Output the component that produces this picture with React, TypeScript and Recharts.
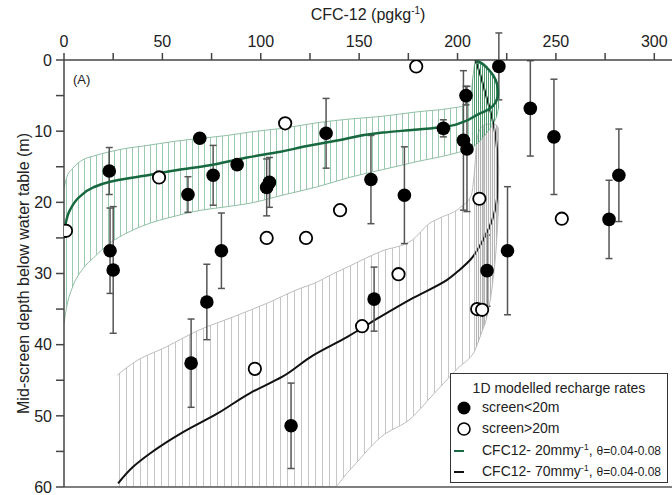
import {
  ComposedChart,
  XAxis,
  YAxis,
  Area,
  Line,
  Scatter,
  ErrorBar,
  ReferenceLine,
  Legend,
  Label,
} from "recharts";

const FONT = "'Liberation Sans', Arial, sans-serif";

const xTicks = [0, 25, 50, 75, 100, 125, 150, 175, 200, 225, 250, 275, 300];
const yTicks = [0, 5, 10, 15, 20, 25, 30, 35, 40, 45, 50, 55, 60];

// 20 mm/y model, theta 0.04-0.08: shallow / deep edge of the band at each concentration
const greenBandX = [0, 1.5, 4.5, 9.7, 15, 23, 32, 40, 57, 66, 83, 95, 111, 129, 145, 162, 179, 196, 205, 207, 208, 209, 212, 215, 218, 220, 221];
const greenBandTop = [18, 16.4, 15.2, 14.0, 13.5, 12.9, 12.4, 12.1, 11.4, 11.1, 10.6, 10.1, 9.6, 8.8, 8.3, 7.9, 7.3, 6.8, 6.3, 4.5, 2, 0.3, 0.6, 1.3, 2.3, 3.5, 4.8];
const greenBandBottom = [37, 34.5, 31.8, 29.3, 27.8, 25.8, 24.3, 23.3, 21.9, 21.3, 20.6, 20.1, 19.0, 17.8, 16.5, 15.4, 14.3, 13.3, 12.6, 12.4, 12.2, 12.0, 11.2, 10.2, 9.0, 7.8, 6.5];

// dense part of the green band near the surface
const greenCoreX = [207.5, 209, 212, 215, 218, 220, 221];
const greenCoreTop = [3, 0.3, 0.6, 1.3, 2.3, 3.5, 4.8];
const greenCoreBottom = [12.3, 12.0, 11.2, 10.2, 9.0, 7.8, 6.5];

// 70 mm/y model band
const grayBandX = [27, 35, 52, 69, 86, 103, 120, 127, 137, 144, 161, 177, 186, 191, 201, 207, 208.5, 210, 212, 215, 218, 220, 221];
const grayBandTop = [44.3, 42.6, 40.3, 37.9, 36.1, 34.2, 32.1, 31.4, 30.0, 29.1, 26.9, 25.3, 22.9, 22.2, 20.8, 19, 16, 11, 9.5, 9.0, 9.0, 9.2, 9.8];
const grayBandBottom = [60, 60, 60, 60, 60, 60, 60, 60, 60, 58, 53, 50.2, 47.5, 46, 43.1, 41.6, 41, 40, 38.5, 36, 31, 25, 19.7];

const grayCoreX = [208.5, 210, 212, 215, 218, 220, 221];
const grayCoreTop = [16, 11, 9.5, 9.0, 9.0, 9.2, 9.8];
const grayCoreBottom = [41, 40, 38.5, 36, 31, 25, 19.7];

// central model profiles (ordered from the water table down)
const greenLineX = [209, 212, 215, 218, 220, 220.6, 219.5, 216, 210, 203, 193, 178, 162, 139, 121.5, 110, 93, 74, 57, 40, 23.4, 14.9, 8, 3, 0.5, 0];
const greenLineDepth = [0, 0.4, 1.1, 2.1, 3.3, 4.8, 5.9, 6.9, 7.7, 8.7, 9.4, 9.8, 10.2, 11.3, 12.2, 12.9, 13.7, 14.8, 15.5, 16.3, 17.1, 17.9, 19.2, 21.1, 23.5, 24.5];

const blackLineX = [209, 211.5, 214, 217, 219.5, 220.6, 220.5, 219.5, 217.6, 213, 206.4, 201, 194.7, 177, 160.7, 144, 126.6, 111, 94.6, 77.8, 60.5, 43.7, 35, 27.5];
const blackLineDepth = [0, 2, 4.5, 7.5, 11, 15, 18, 20.5, 22.5, 25.3, 28.1, 29.5, 30.9, 33.5, 36.1, 38.9, 41.5, 44.5, 46.8, 49.7, 52.3, 55.3, 57.2, 59.5];

// observations, screen < 20 m
const shallowX = [221, 237, 249, 282, 277, 204.3, 203, 204.8, 192.8, 156, 173, 133.2, 69, 88, 75.8, 63, 103, 104.4, 23, 23.4, 25, 80, 72.6, 64.6, 115.4, 157.6, 215, 225.4];
const shallowDepth = [0.9, 6.8, 10.8, 16.2, 22.4, 5.0, 11.3, 12.5, 9.6, 16.8, 19.0, 10.3, 11.0, 14.7, 16.2, 18.9, 17.9, 17.2, 15.6, 26.8, 29.5, 26.8, 34.0, 42.6, 51.4, 33.6, 29.6, 26.8];
const shallowErr = [4.7, 6.7, 8.1, 6.5, 5.5, 1.3, 9.8, 8.8, 1.2, 6.2, 6.8, 4.9, 0.4, 0.3, 4.2, 2.5, 4.0, 3.5, 3.3, 6.0, 8.9, 5.3, 5.3, 6.2, 6.0, 4.5, 5.0, 9.0];

// observations, screen > 20 m
const deepX = [179, 112.4, 48.3, 1, 103, 123, 140.3, 211.1, 253, 170, 151.5, 210, 212.5, 97];
const deepDepth = [0.9, 8.9, 16.5, 24.0, 25.0, 25.0, 21.1, 19.5, 22.3, 30.1, 37.4, 35.0, 35.1, 43.4];

const band = (xs: number[], top: number[], bottom: number[]) =>
  xs.map((x, i) => ({ x, band: [top[i], bottom[i]] }));
const profile = (xs: number[], ys: number[]) => xs.map((x, i) => ({ x, y: ys[i] }));

const greenBand = band(greenBandX, greenBandTop, greenBandBottom);
const greenCore = band(greenCoreX, greenCoreTop, greenCoreBottom);
const grayBand = band(grayBandX, grayBandTop, grayBandBottom);
const grayCore = band(grayCoreX, grayCoreTop, grayCoreBottom);
const greenLine = profile(greenLineX, greenLineDepth);
const blackLine = profile(blackLineX, blackLineDepth);
const shallow = shallowX.map((x, i) => ({ x, y: shallowDepth[i], err: shallowErr[i] }));
const deep = profile(deepX, deepDepth);

const FilledDot = (p: any) => <circle cx={p.cx} cy={p.cy} r={6.8} fill="#000" />;
const OpenDot = (p: any) => (
  <circle cx={p.cx} cy={p.cy} r={6.2} fill="#fff" stroke="#000" strokeWidth={1.8} />
);

function LegendBox() {
  const row = (top: number, marker: React.ReactNode, text: React.ReactNode) => (
    <div style={{ position: "absolute", left: 0, top, height: 20, width: "100%" }}>
      <svg width={26} height={20} style={{ position: "absolute", left: 0, top: 0 }}>
        {marker}
      </svg>
      <span style={{ position: "absolute", left: 31, top: 1, whiteSpace: "nowrap" }}>{text}</span>
    </div>
  );
  const model = (rate: string) => (
    <>
      CFC12- {rate}mmy<sup style={{ fontSize: 9, verticalAlign: 5 }}>-1</sup>,{" "}
      <span style={{ fontSize: 12 }}>θ=0.04-0.08</span>
    </>
  );
  return (
    <div
      style={{
        position: "relative",
        width: 218,
        height: 110,
        boxSizing: "border-box",
        border: "1.5px solid #333",
        background: "#fff",
        fontFamily: FONT,
        fontSize: 14,
        color: "#222",
      }}
    >
      <div style={{ position: "absolute", top: 6, width: "100%", textAlign: "center" }}>
        1D modelled recharge rates
      </div>
      {row(24, <circle cx={13} cy={10} r={6.5} fill="#000" />, "screen<20m")}
      {row(45, <circle cx={13} cy={10} r={6} fill="#fff" stroke="#000" strokeWidth={1.6} />, "screen>20m")}
      {row(67, <line x1={3} x2={13} y1={10} y2={10} stroke="#1a6b45" strokeWidth={2} />, model("20"))}
      {row(88, <line x1={3} x2={13} y1={10} y2={10} stroke="#111" strokeWidth={2} />, model("70"))}
    </div>
  );
}

export default function App() {
  return (
    <div style={{ position: "absolute", left: 0, top: 0, fontFamily: FONT }}>
      <ComposedChart width={672} height={495} margin={{ top: 30, right: 0, bottom: 8, left: 24 }}>
        <defs>
          <pattern id="hatchGreen" patternUnits="userSpaceOnUse" width={6} height={10}>
            <line x1={0.5} y1={0} x2={0.5} y2={10} stroke="#9ccab1" strokeWidth={1} />
          </pattern>
          <pattern id="hatchGreenDense" patternUnits="userSpaceOnUse" width={2} height={10}>
            <line x1={0.5} y1={0} x2={0.5} y2={10} stroke="#4f9a70" strokeWidth={1} />
          </pattern>
          <pattern id="hatchGray" patternUnits="userSpaceOnUse" width={7} height={10}>
            <line x1={0.5} y1={0} x2={0.5} y2={10} stroke="#c6c6c6" strokeWidth={1} />
          </pattern>
          <pattern id="hatchGrayDense" patternUnits="userSpaceOnUse" width={2} height={10}>
            <line x1={0.5} y1={0} x2={0.5} y2={10} stroke="#b4b4b4" strokeWidth={1.2} />
          </pattern>
        </defs>
        <XAxis
          xAxisId={0}
          type="number"
          dataKey="x"
          orientation="top"
          domain={[0, 309]}
          allowDataOverflow
          ticks={xTicks}
          interval={0}
          height={30}
          tickSize={7}
          tickMargin={6}
          tickFormatter={(v: number) => (v % 50 === 0 ? String(v) : "")}
          tick={{ fontSize: 16, fill: "#222", fontFamily: FONT }}
          axisLine={{ stroke: "#444", strokeWidth: 1.5 }}
          tickLine={{ stroke: "#444", strokeWidth: 1.5 }}
        >
          <Label
            content={(p: any) => (
              <text
                x={p.viewBox.x + p.viewBox.width / 2}
                y={p.viewBox.y - 10}
                textAnchor="middle"
                fontSize={16}
                fill="#222"
                fontFamily={FONT}
              >
                CFC-12 (pgkg
                <tspan dy={-6} fontSize={10}>-1</tspan>
                <tspan dy={6}>)</tspan>
              </text>
            )}
          />
        </XAxis>
        <YAxis
          yAxisId={0}
          type="number"
          dataKey="y"
          domain={[0, 60]}
          allowDataOverflow
          reversed
          ticks={yTicks}
          interval={0}
          width={40}
          tickSize={8}
          tickMargin={4}
          tickFormatter={(v: number) => (v % 10 === 0 ? String(v) : "")}
          tick={{ fontSize: 16, fill: "#222", fontFamily: FONT }}
          axisLine={{ stroke: "#444", strokeWidth: 1.5 }}
          tickLine={{ stroke: "#444", strokeWidth: 1.5 }}
        >
          <Label
            content={(p: any) => {
              const x = p.viewBox.x + 4.5;
              const y = p.viewBox.y + p.viewBox.height / 2;
              return (
                <text
                  x={x}
                  y={y}
                  transform={`rotate(-90 ${x} ${y})`}
                  textAnchor="middle"
                  fontSize={16}
                  fill="#222"
                  fontFamily={FONT}
                >
                  Mid-screen depth below water table (m)
                </text>
              );
            }}
          />
        </YAxis>

        <Area data={grayBand} dataKey="band" type="monotone" fill="url(#hatchGray)" fillOpacity={1} stroke="#bdbdbd" strokeWidth={1} isAnimationActive={false} />
        <Line data={blackLine} dataKey="y" type="monotoneY" stroke="#111" strokeWidth={2} dot={false} isAnimationActive={false} />
        {/* dense parts sit above the black profile, as in the original figure */}
        <Area {...({ zIndex: 410 } as any)} data={grayCore} dataKey="band" type="monotone" fill="url(#hatchGrayDense)" fillOpacity={1} stroke="none" isAnimationActive={false} />
        <Area data={greenBand} dataKey="band" type="monotone" fill="url(#hatchGreen)" fillOpacity={1} stroke="#8fc0a5" strokeWidth={1} isAnimationActive={false} />
        <Area {...({ zIndex: 420 } as any)} data={greenCore} dataKey="band" type="monotone" fill="url(#hatchGreenDense)" fillOpacity={1} stroke="none" isAnimationActive={false} />
        <Line {...({ zIndex: 430 } as any)} data={greenLine} dataKey="y" type="monotoneY" stroke="#17683f" strokeWidth={2.5} dot={false} isAnimationActive={false} />

        <ReferenceLine y={60} stroke="#555" strokeWidth={1.5} />

        <Scatter data={shallow} dataKey="y" shape={FilledDot} isAnimationActive={false}>
          <ErrorBar dataKey="err" direction="y" width={3.5} stroke="#555" strokeWidth={1.5} />
        </Scatter>
        <Scatter data={deep} dataKey="y" shape={OpenDot} isAnimationActive={false} />

        <Legend
          layout="horizontal"
          verticalAlign="middle"
          align="center"
          content={() => <LegendBox />}
          wrapperStyle={{ left: 450, top: 373, width: 218, height: 110 }}
        />
      </ComposedChart>
      <div style={{ position: "absolute", left: 73, top: 72, fontSize: 13, color: "#222" }}>(A)</div>
    </div>
  );
}
